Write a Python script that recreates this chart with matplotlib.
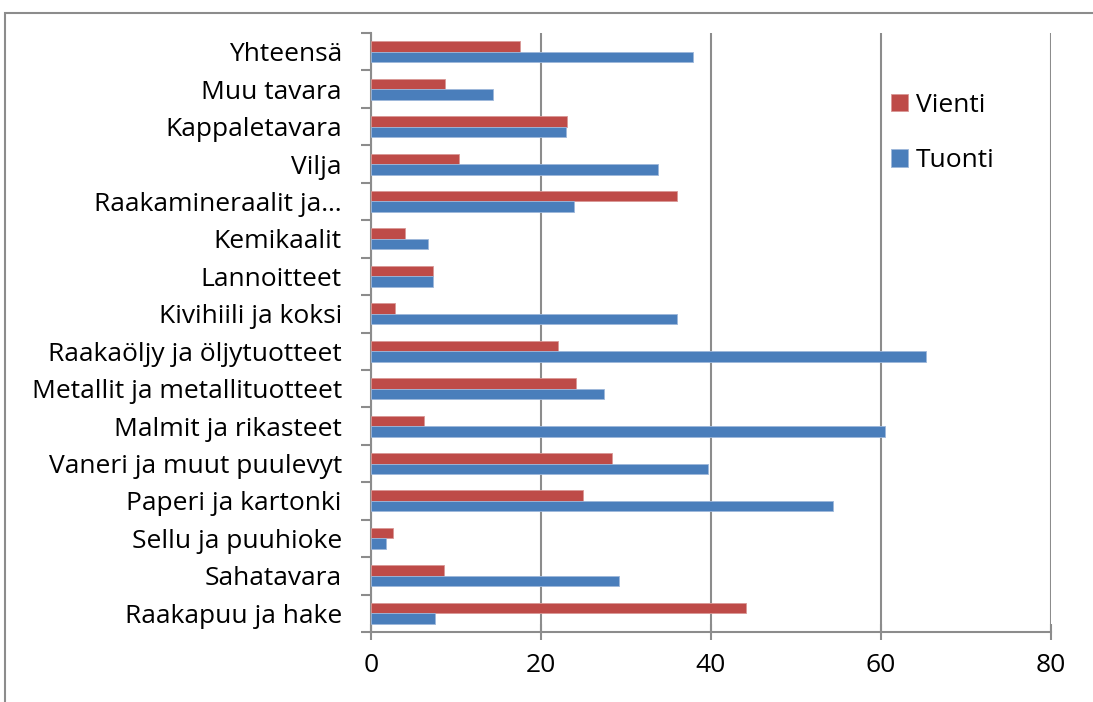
import matplotlib.pyplot as plt
import numpy as np
from matplotlib.patches import Rectangle

plt.rcParams['font.family'] = ['Open Sans', 'DejaVu Sans']

# luokat alhaalta ylös
categories = ['Raakapuu ja hake', 'Sahatavara', 'Sellu ja puuhioke', 'Paperi ja kartonki',
              'Vaneri ja muut puulevyt', 'Malmit ja rikasteet', 'Metallit ja metallituotteet',
              'Raakaöljy ja öljytuotteet', 'Kivihiili ja koksi', 'Lannoitteet', 'Kemikaalit',
              'Raakamineraalit ja…', 'Vilja', 'Kappaletavara', 'Muu tavara', 'Yhteensä']
vienti = [44.1, 8.6, 2.6, 24.9, 28.4, 6.2, 24.1, 22.0, 2.8, 7.3, 4.0, 36.0, 10.3, 23.1, 8.7, 17.5]
tuonti = [7.5, 29.2, 1.8, 54.4, 39.6, 60.5, 27.4, 65.3, 36.0, 7.3, 6.7, 23.9, 33.8, 22.9, 14.3, 37.9]
x_ticks = [0, 20, 40, 60, 80]

red = '#BE4B48'
blue = '#4A7EBB'
grid_c = '#8C8C8C'

fig = plt.figure(figsize=(10.93, 7.02), dpi=100)
ax = fig.add_axes([371 / 1093, 1 - 632 / 702, 680 / 1093, 599 / 702])

y = np.arange(len(categories))
h = 0.28
ax.barh(y + h / 2, vienti, height=h, color=red, edgecolor='#D99795', linewidth=0.6, label='Vienti', zorder=3)
ax.barh(y - h / 2, tuonti, height=h, color=blue, edgecolor='#9DB7DA', linewidth=0.6, label='Tuonti', zorder=3)

ax.set_xlim(0, 80)
ax.set_ylim(-0.5, len(categories) - 0.5)
ax.set_xticks(x_ticks)
ax.tick_params(axis='x', direction='inout', length=12, width=1.5, color=grid_c,
               labelsize=19, pad=9)
ax.set_yticks(np.arange(-0.5, len(categories), 1))
ax.set_yticklabels([])
ax.set_yticks(y, minor=True)
ax.set_yticklabels(categories, minor=True)
ax.tick_params(axis='y', which='major', direction='out', length=7, width=1.5, color=grid_c)
ax.tick_params(axis='y', which='minor', length=0, labelsize=19, pad=21)

ax.grid(axis='x', color=grid_c, linewidth=1.5, zorder=0)
for s in ['top', 'right']:
    ax.spines[s].set_visible(False)
for s in ['left', 'bottom']:
    ax.spines[s].set_color(grid_c)
    ax.spines[s].set_linewidth(1.5)

ax.legend(loc='upper left', bbox_to_anchor=(0.73, 0.94), frameon=False, fontsize=19,
          handlelength=0.65, handleheight=0.65, handletextpad=0.3, labelspacing=1.15)

# ulkokehys
fig.patches.append(Rectangle((5 / 1093, -0.1), 1.2, 1 - 13 / 702 + 0.1, transform=fig.transFigure,
                             fill=False, edgecolor=grid_c, linewidth=1.5))

fig.savefig('out.png', dpi=100)
